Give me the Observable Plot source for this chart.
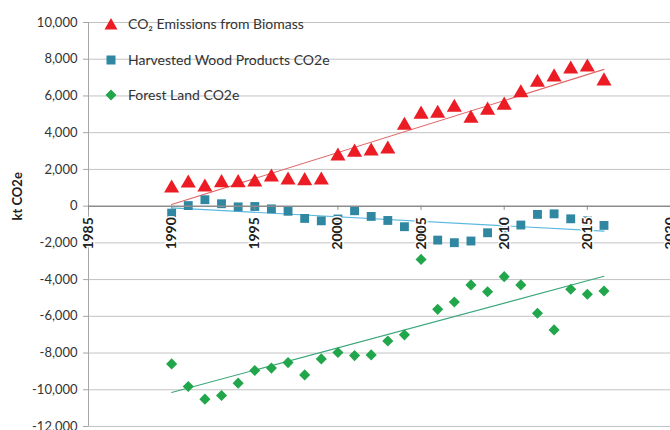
<!DOCTYPE html>
<html>
<head>
<meta charset="utf-8">
<script src="https://cdn.jsdelivr.net/npm/d3@7"></script>
<script src="https://cdn.jsdelivr.net/npm/@observablehq/plot@0.6"></script>
<style>
  html, body { margin: 0; padding: 0; background: #fff; }
  #wrap { position: relative; width: 670px; height: 430px; overflow: hidden; font-family: Lato, "Open Sans", sans-serif; }
  #legend { position: absolute; left: 104px; top: 14px; }
  .li { position: absolute; left: 0; height: 20px; line-height: 20px; white-space: nowrap; font-size: 14px; color: #333; }
  .li svg { position: absolute; left: 0; top: 3px; }
  .li span { position: absolute; left: 24px; top: 0; }
</style>
</head>
<body>
<div id="wrap"><div id="legend"></div></div>
<script>
// ---- data ----
const years = [1990, 1991, 1992, 1993, 1994, 1995, 1996, 1997, 1998, 1999,
               2000, 2001, 2002, 2003, 2004, 2005, 2006, 2007, 2008, 2009,
               2010, 2011, 2012, 2013, 2014, 2015, 2016];
const biomass = [980, 1250, 1030, 1270, 1270, 1300, 1580, 1410, 1380, 1410,
                 2720, 2930, 2990, 3100, 4400, 5000, 5050, 5380, 4780, 5220,
                 5490, 6160, 6740, 7030, 7460, 7570, 6810];
const hwp = [-380, 30, 350, 130, -40, -20, -150, -280, -670, -800,
             -700, -250, -560, -780, -1120, -1500, -1850, -1990, -1900, -1450,
             -1300, -1030, -450, -420, -690, -800, -1050];
const forest = [-8590, -9820, -10510, -10310, -9640, -8950, -8820, -8520, -9190, -8320,
                -7970, -8140, -8100, -7340, -7010, -2900, -5620, -5220, -4290, -4660,
                -3840, -4290, -5830, -6740, -4530, -4800, -4620];
const seriesNames = ["CO\u2082 Emissions from Biomass", "Harvested Wood Products CO2e", "Forest Land CO2e"];
const yTicks = [10000, 8000, 6000, 4000, 2000, 0, -2000, -4000, -6000, -8000, -10000, -12000];
const xTicks = [1985, 1990, 1995, 2000, 2005, 2010, 2015, 2020];
const yTitle = "kt CO2e";

// ---- styles ----
const colors = { biomass: "#ec1c24", hwp: "#2f87a2", forest: "#21a64c" };
const trendColors = { biomass: "#e06666", hwp: "#5ab8e0", forest: "#3aa67a" };

const mk = arr => years.map((yr, i) => ({ year: yr, value: arr[i] }));
const dBio = mk(biomass), dHwp = mk(hwp), dFor = mk(forest);
const fmt = d => d.toLocaleString("en-US");

const chart = Plot.plot({
  width: 670,
  height: 430,
  marginLeft: 88,
  marginRight: 0,
  marginTop: 22,
  marginBottom: 4,
  style: { fontFamily: "Lato, 'Open Sans', sans-serif", fontSize: "13px", background: "white", overflow: "visible" },
  x: { domain: [1985, 2020], axis: null },
  y: { domain: [-12000, 10000], axis: null },
  marks: [
    // gridlines
    Plot.ruleY(yTicks.filter(d => d !== 0), { stroke: "#c3c3c3", strokeWidth: 1 }),
    // left axis line
    Plot.ruleX([1985], { stroke: "#a6a6a6", strokeWidth: 1 }),
    // y tick marks
    Plot.ruleY(yTicks, { x1: 1984.7, x2: 1985, stroke: "#a6a6a6", strokeWidth: 1 }),
    // y tick labels
    Plot.text(yTicks, { x: 1985, y: d => d, text: fmt, textAnchor: "end", dx: -11, fill: "#333", fontSize: 13 }),
    // y title
    Plot.text([yTitle], { frameAnchor: "left", dx: -71, dy: -4, rotate: -90, fontWeight: "bold", fontSize: 13, fill: "#222" }),
    // trendlines
    Plot.linearRegressionY(dBio, { x: "year", y: "value", stroke: trendColors.biomass, strokeWidth: 1.1, ci: 0 }),
    Plot.linearRegressionY(dHwp, { x: "year", y: "value", stroke: trendColors.hwp, strokeWidth: 1.1, ci: 0 }),
    Plot.linearRegressionY(dFor, { x: "year", y: "value", stroke: trendColors.forest, strokeWidth: 1.1, ci: 0 }),
    // points
    Plot.dot(dBio, { x: "year", y: "value", symbol: "triangle", r: 5.6, fill: colors.biomass, stroke: "none" }),
    Plot.dot(dHwp, { x: "year", y: "value", symbol: "square", r: 5, fill: colors.hwp, stroke: "none" }),
    Plot.dot(dFor, { x: "year", y: "value", symbol: "diamond2", r: 5, fill: colors.forest, stroke: "none" }),
    // zero axis line
    Plot.ruleY([0], { stroke: "#8c8c8c", strokeWidth: 1.5 }),
    // x tick marks
    Plot.ruleX(xTicks, { y1: 0, y2: -230, stroke: "#8c8c8c", strokeWidth: 1 }),
    // x tick labels (rotated, on a white box as in the original)
    Plot.text(xTicks, { x: d => d, y: 0, text: d => String(d), rotate: -90, textAnchor: "end", dy: 11,
      fontWeight: "bold", fontSize: 14, fill: "#222", stroke: "white", strokeWidth: 3, paintOrder: "stroke" })
  ]
});
document.getElementById("wrap").prepend(chart);

// ---- legend (overlaid inside the plot area, top-left) ----
const legend = document.getElementById("legend");
const symPaths = [
  `<polygon points="7,1 13.5,12.5 0.5,12.5" fill="${colors.biomass}"/>`,
  `<rect x="2.5" y="2.5" width="9" height="9" fill="${colors.hwp}"/>`,
  `<polygon points="7,1.5 12.5,7 7,12.5 1.5,7" fill="${colors.forest}"/>`
];
const rowTops = [0, 35.5, 71];
seriesNames.forEach((name, i) => {
  const div = document.createElement("div");
  div.className = "li";
  div.style.top = rowTops[i] + "px";
  div.innerHTML = `<svg width="14" height="14">${symPaths[i]}</svg><span>${name}</span>`;
  legend.appendChild(div);
});
</script>
</body>
</html>
